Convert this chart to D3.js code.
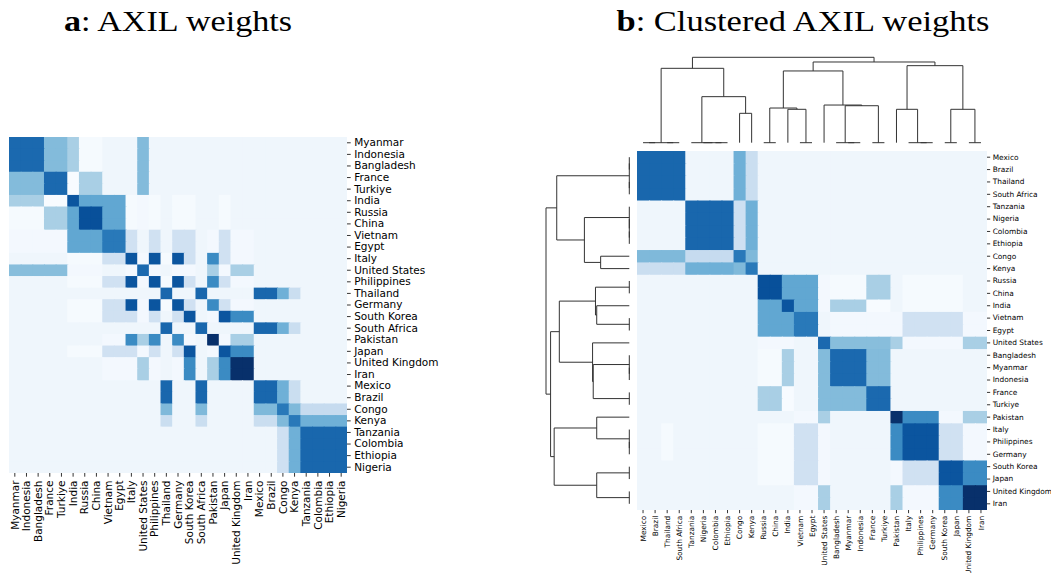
<!DOCTYPE html>
<html>
<head>
<meta charset="utf-8">
<script src="https://cdn.jsdelivr.net/npm/d3@7/dist/d3.min.js"></script>
<style>
  body { margin: 0; background: #fff; }
  text { font-family: "DejaVu Sans", sans-serif; }
</style>
</head>
<body>
<div id="chart"></div>
<script>
// Country order of panel a (rows and columns)
const countries = ["Myanmar", "Indonesia", "Bangladesh", "France", "Turkiye", "India", "Russia", "China",
  "Vietnam", "Egypt", "Italy", "United States", "Philippines", "Thailand", "Germany", "South Korea",
  "South Africa", "Pakistan", "Japan", "United Kingdom", "Iran", "Mexico", "Brazil", "Congo", "Kenya",
  "Tanzania", "Colombia", "Ethiopia", "Nigeria"];

// Leaf order of the clustering in panel b
const clusterOrder = ["Mexico", "Brazil", "Thailand", "South Africa", "Tanzania", "Nigeria", "Colombia",
  "Ethiopia", "Congo", "Kenya", "Russia", "China", "India", "Vietnam", "Egypt", "United States",
  "Bangladesh", "Myanmar", "Indonesia", "France", "Turkiye", "Pakistan", "Italy", "Philippines",
  "Germany", "South Korea", "Japan", "United Kingdom", "Iran"];

// AXIL weights (relative to the largest weight), rows and columns in the order of `countries`
const weights = [
  [.78,.78,.78,.44,.44,.34,.01,.01,.04,.04,.04,.44,.04,.04,.04,.04,.04,.04,.04,.04,.04,.04,.04,.04,.04,.04,.04,.04,.04],
  [.78,.78,.78,.44,.44,.34,.01,.01,.04,.04,.04,.44,.04,.04,.04,.04,.04,.04,.04,.04,.04,.04,.04,.04,.04,.04,.04,.04,.04],
  [.78,.78,.78,.44,.44,.34,.01,.01,.04,.04,.04,.44,.04,.04,.04,.04,.04,.04,.04,.04,.04,.04,.04,.04,.04,.04,.04,.04,.04],
  [.44,.44,.44,.78,.78,0,.34,.34,.04,.04,.04,.44,.04,.04,.04,.04,.04,.04,.04,.04,.04,.04,.04,.04,.04,.04,.04,.04,.04],
  [.44,.44,.44,.78,.78,0,.34,.34,.04,.04,.04,.44,.04,.04,.04,.04,.04,.04,.04,.04,.04,.04,.04,.04,.04,.04,.04,.04,.04],
  [.34,.34,.34,0,0,.86,.53,.53,.53,.53,.01,.02,.01,.04,.01,.01,.04,.04,.01,.04,.04,.04,.04,.04,.04,.04,.04,.04,.04],
  [.01,.01,.01,.34,.34,.53,.88,.88,.53,.53,.01,.02,.01,.04,.01,.01,.04,.04,.01,.04,.04,.04,.04,.04,.04,.04,.04,.04,.04],
  [.01,.01,.01,.34,.34,.53,.88,.88,.53,.53,.01,.02,.01,.04,.01,.01,.04,.04,.01,.04,.04,.04,.04,.04,.04,.04,.04,.04,.04],
  [.02,.02,.02,.02,.02,.53,.53,.53,.72,.72,.20,.04,.20,.04,.20,.20,.04,.02,.20,.02,.02,.04,.04,.04,.04,.04,.04,.04,.04],
  [.02,.02,.02,.02,.02,.53,.53,.53,.72,.72,.20,.04,.20,.04,.20,.20,.04,.02,.20,.02,.02,.04,.04,.04,.04,.04,.04,.04,.04],
  [.04,.04,.04,.04,.04,.01,.01,.01,.20,.20,.86,.02,.86,.01,.86,.20,.04,.65,.20,.02,.02,.04,.04,.04,.04,.04,.04,.04,.04],
  [.43,.43,.43,.43,.43,.02,.02,.02,.04,.04,.02,.78,.02,.04,.02,.02,.04,.34,.02,.34,.34,.04,.04,.04,.04,.04,.04,.04,.04],
  [.04,.04,.04,.04,.04,.01,.01,.01,.20,.20,.86,.02,.86,.01,.86,.20,.04,.65,.20,.02,.02,.04,.04,.04,.04,.04,.04,.04,.04],
  [.04,.04,.04,.04,.04,.04,.04,.04,.04,.04,.04,.04,.04,.79,.04,.04,.79,.04,.04,.04,.04,.79,.79,.49,.23,.04,.04,.04,.04],
  [.04,.04,.04,.04,.04,.01,.01,.01,.20,.20,.86,.02,.86,.01,.86,.20,.04,.65,.20,.02,.02,.04,.04,.04,.04,.04,.04,.04,.04],
  [.04,.04,.04,.04,.04,.01,.01,.01,.20,.20,.20,.02,.20,.04,.20,.86,.04,.02,.86,.65,.65,.04,.04,.04,.04,.04,.04,.04,.04],
  [.04,.04,.04,.04,.04,.04,.04,.04,.04,.04,.04,.04,.04,.79,.04,.04,.79,.04,.04,.04,.04,.79,.79,.49,.23,.04,.04,.04,.04],
  [.04,.04,.04,.04,.04,.04,.04,.04,.02,.02,.65,.34,.65,.04,.65,.02,.04,1.0,.02,.34,.34,.04,.04,.04,.04,.04,.04,.04,.04],
  [.04,.04,.04,.04,.04,.01,.01,.01,.20,.20,.20,.02,.20,.04,.20,.86,.04,.02,.86,.65,.65,.04,.04,.04,.04,.04,.04,.04,.04],
  [.04,.04,.04,.04,.04,.04,.04,.04,.02,.02,.02,.34,.02,.04,.02,.65,.04,.34,.65,1.0,1.0,.04,.04,.04,.04,.04,.04,.04,.04],
  [.04,.04,.04,.04,.04,.04,.04,.04,.02,.02,.02,.34,.02,.04,.02,.65,.04,.34,.65,1.0,1.0,.04,.04,.04,.04,.04,.04,.04,.04],
  [.04,.04,.04,.04,.04,.04,.04,.04,.04,.04,.04,.04,.04,.79,.04,.04,.79,.04,.04,.04,.04,.79,.79,.49,.23,.04,.04,.04,.04],
  [.04,.04,.04,.04,.04,.04,.04,.04,.04,.04,.04,.04,.04,.79,.04,.04,.79,.04,.04,.04,.04,.79,.79,.49,.23,.04,.04,.04,.04],
  [.04,.04,.04,.04,.04,.04,.04,.04,.04,.04,.04,.04,.04,.45,.04,.04,.45,.04,.04,.04,.04,.45,.45,.72,.45,.25,.25,.25,.25],
  [.04,.04,.04,.04,.04,.04,.04,.04,.04,.04,.04,.04,.04,.23,.04,.04,.23,.04,.04,.04,.04,.23,.23,.45,.72,.49,.49,.49,.49],
  [.04,.04,.04,.04,.04,.04,.04,.04,.04,.04,.04,.04,.04,.04,.04,.04,.04,.04,.04,.04,.04,.04,.04,.21,.49,.79,.79,.79,.79],
  [.04,.04,.04,.04,.04,.04,.04,.04,.04,.04,.04,.04,.04,.04,.04,.04,.04,.04,.04,.04,.04,.04,.04,.21,.49,.79,.79,.79,.79],
  [.04,.04,.04,.04,.04,.04,.04,.04,.04,.04,.04,.04,.04,.04,.04,.04,.04,.04,.04,.04,.04,.04,.04,.21,.49,.79,.79,.79,.79],
  [.04,.04,.04,.04,.04,.04,.04,.04,.04,.04,.04,.04,.04,.04,.04,.04,.04,.04,.04,.04,.04,.04,.04,.21,.49,.79,.79,.79,.79]
];

// Dendrogram merges [child, child, height]; merge i becomes node "m" + i
const merges = [
  ["Mexico", "Brazil", 0],
  ["Thailand", "South Africa", 0],
  ["m0", "m1", 0],
  ["Colombia", "Ethiopia", 0],
  ["Nigeria", "m3", 0],
  ["Tanzania", "m4", 0],
  ["Congo", "Kenya", 0.344],
  ["m5", "m6", 0.539],
  ["m2", "m7", 0.871],
  ["Russia", "China", 0],
  ["Vietnam", "Egypt", 0],
  ["India", "m10", 0.391],
  ["m9", "m11", 0.406],
  ["Myanmar", "Indonesia", 0],
  ["Bangladesh", "m13", 0],
  ["France", "Turkiye", 0],
  ["m14", "m15", 0.433],
  ["United States", "m16", 0.441],
  ["m12", "m17", 0.840],
  ["Philippines", "Germany", 0],
  ["Italy", "m19", 0],
  ["Pakistan", "m20", 0.391],
  ["South Korea", "Japan", 0],
  ["United Kingdom", "Iran", 0],
  ["m22", "m23", 0.391],
  ["m21", "m24", 0.902],
  ["m18", "m25", 0.945],
  ["m8", "m26", 1.0]
];

let width = 1051, height = 573;

let svg = d3.select('#chart')
  .append('svg')
  .attr('width', width)
  .attr('height', height)
  .style('display', 'block');

// matplotlib "Blues"
const bluesStops = ["#f7fbff", "#deebf7", "#c6dbef", "#9ecae1", "#6baed6", "#4292c6", "#2171b5", "#08519c", "#08306b"];
let color = d3.scaleLinear()
  .domain(d3.range(9).map(i => i / 8))
  .range(bluesStops);

const serif = '"Liberation Serif", "DejaVu Serif", serif';

function drawTitle(x, letter, rest, len) {
  let t = svg.append('text')
    .attr('x', x)
    .attr('y', 31)
    .attr('text-anchor', 'middle')
    .attr('textLength', len)
    .attr('lengthAdjust', 'spacingAndGlyphs')
    .style('font-family', serif)
    .style('font-size', '30px')
    .style('fill', '#000');
  t.append('tspan').style('font-weight', 'bold').text(letter);
  t.append('tspan').text(rest);
}

function drawHeatmap(id, order, xScale, yScale) {
  let x0 = xScale.range()[0], x1 = xScale.range()[1];
  let y0 = yScale.range()[0], y1 = yScale.range()[1];

  // clip so the overlapping cells (no seams) stay inside the map
  svg.append('clipPath')
    .attr('id', id)
    .append('rect')
    .attr('x', x0).attr('y', y0)
    .attr('width', x1 - x0).attr('height', y1 - y0);

  let cells = [];
  order.forEach(r => {
    order.forEach(c => {
      cells.push({ r: r, c: c, v: weights[countries.indexOf(r)][countries.indexOf(c)] });
    });
  });

  svg.append('g')
    .attr('clip-path', `url(#${id})`)
    .selectAll('rect')
    .data(cells)
    .enter()
    .append('rect')
    .attr('x', d => xScale(d.c))
    .attr('y', d => yScale(d.r))
    .attr('width', xScale.bandwidth() + 1)
    .attr('height', yScale.bandwidth() + 1)
    .attr('fill', d => color(d.v));
}

function styleAxis(ax, size) {
  ax.select('.domain').remove();
  ax.selectAll('line').attr('stroke', '#000').attr('stroke-width', 0.8);
  ax.selectAll('text').style('font-family', '"DejaVu Sans", sans-serif').style('font-size', size + 'px').attr('fill', '#000');
}

// ---------- panel a ----------
drawTitle(178, 'a', ': AXIL weights', 228);

let xA = d3.scaleBand().domain(countries).range([9, 347]);
let yA = d3.scaleBand().domain(countries).range([137, 473]);

drawHeatmap('clipA', countries, xA, yA);

let yAxisA = svg.append('g')
  .attr('transform', 'translate(347,0)')
  .call(d3.axisRight(yA).tickSize(3.7).tickPadding(3.5));
styleAxis(yAxisA, 10.5);

let xAxisA = svg.append('g')
  .attr('transform', 'translate(0,473)')
  .call(d3.axisBottom(xA).tickSize(3.7).tickPadding(3.5));
styleAxis(xAxisA, 10.5);
xAxisA.selectAll('text')
  .attr('transform', 'rotate(-90)')
  .attr('text-anchor', 'end')
  .attr('x', -7.5)
  .attr('y', 0)
  .attr('dy', '0.35em');

// ---------- panel b ----------
drawTitle(803, 'b', ': Clustered AXIL weights', 373);

let xB = d3.scaleBand().domain(clusterOrder).range([637, 987]);
let yB = d3.scaleBand().domain(clusterOrder).range([151, 510]);

drawHeatmap('clipB', clusterOrder, xB, yB);

let yAxisB = svg.append('g')
  .attr('transform', 'translate(987,0)')
  .call(d3.axisRight(yB).tickSize(3.2).tickPadding(2.5));
styleAxis(yAxisB, 7.4);

let xAxisB = svg.append('g')
  .attr('transform', 'translate(0,510)')
  .call(d3.axisBottom(xB).tickSize(3.2).tickPadding(2.5));
styleAxis(xAxisB, 7.4);
xAxisB.selectAll('text')
  .attr('transform', 'rotate(-90)')
  .attr('text-anchor', 'end')
  .attr('x', -5.7)
  .attr('y', 0)
  .attr('dy', '0.35em');

// Dendrograms: heights to pixels
let hTop = d3.scaleLinear().domain([0, 1]).range([142.7, 57.3]);
let hLeft = d3.scaleLinear().domain([0, 1]).range([629.3, 546]);

let colPos = {}, rowPos = {}, nodeH = {};
clusterOrder.forEach(c => {
  colPos[c] = xB(c) + xB.bandwidth() / 2;
  rowPos[c] = yB(c) + yB.bandwidth() / 2;
  nodeH[c] = 0;
});

let topTree = svg.append('g');
let leftTree = svg.append('g');

merges.forEach((m, i) => {
  const [a, b, h] = m;
  const id = 'm' + i;
  colPos[id] = (colPos[a] + colPos[b]) / 2;
  rowPos[id] = (rowPos[a] + rowPos[b]) / 2;
  nodeH[id] = h;

  topTree.append('path')
    .attr('d', `M${colPos[a]},${hTop(nodeH[a])}V${hTop(h)}H${colPos[b]}V${hTop(nodeH[b])}`)
    .attr('fill', 'none')
    .attr('stroke', '#333')
    .attr('stroke-width', 1);

  leftTree.append('path')
    .attr('d', `M${hLeft(nodeH[a])},${rowPos[a]}H${hLeft(h)}V${rowPos[b]}H${hLeft(nodeH[b])}`)
    .attr('fill', 'none')
    .attr('stroke', '#333')
    .attr('stroke-width', 1);
});
</script>
</body>
</html>
